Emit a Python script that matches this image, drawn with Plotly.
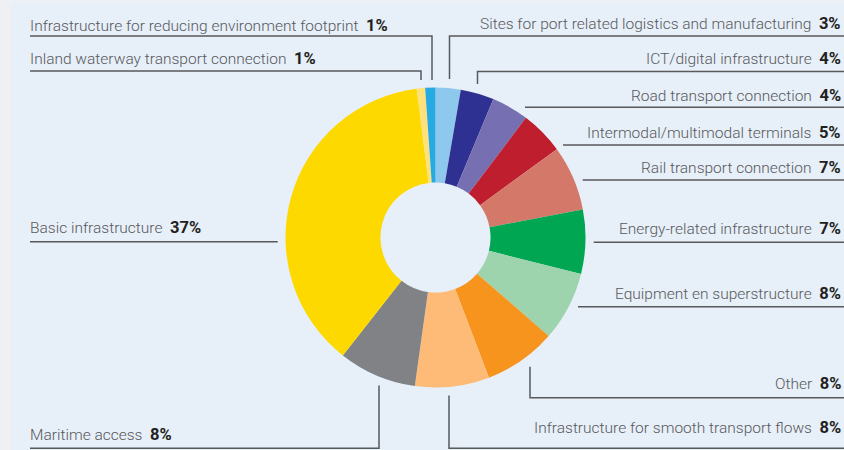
import plotly.graph_objects as go

W, H = 844, 450

# ---- data (clockwise from 12 o'clock) ----
categories = [
    "Sites for port related logistics and manufacturing",
    "ICT/digital infrastructure",
    "Road transport connection",
    "Intermodal/multimodal terminals",
    "Rail transport connection",
    "Energy-related infrastructure",
    "Equipment en superstructure",
    "Other",
    "Infrastructure for smooth transport flows",
    "Maritime access",
    "Basic infrastructure",
    "Inland waterway transport connection",
    "Infrastructure for reducing environment footprint",
]
shares = [2.7, 3.6, 4.0, 4.7, 7.0, 6.9, 7.5, 7.8, 8.0, 8.4, 37.4, 0.9, 1.1]
share_labels = ["3%", "4%", "4%", "5%", "7%", "7%", "8%", "8%", "8%", "8%", "37%", "1%", "1%"]
colors = ["#8EC8EC", "#2E3191", "#7670B3", "#BE1E2D", "#D4796A", "#00A651",
          "#9DD4AE", "#F7941D", "#FDBB77", "#808285", "#FDD900", "#FEE17A", "#27AAE1"]

PANEL = "#E7EFF9"
OUTER = "#EEF0F3"
LINE = "#58595B"
TXT = "#58595B"
PCT = "#231F20"
FONT = "Roboto"
FS = 15.5


def px(x):
    return x / W


def py(y):
    return 1 - y / H


# pie placement: centre (435.5, 237.5), radius 150
cx, cy, r = 435.5, 237.5, 150
fig = go.Figure(go.Pie(
    labels=categories,
    values=shares,
    sort=False,
    direction="clockwise",
    rotation=0,
    hole=0.367,
    marker=dict(colors=colors, line=dict(width=0)),
    textinfo="none",
    hoverinfo="label+percent",
    domain=dict(x=[px(cx - r), px(cx + r)], y=[py(cy + r), py(cy - r)]),
    showlegend=False,
))

# label layout: (side, y-centre px)
label_pos = {
    "Sites for port related logistics and manufacturing": ("R", 23.5),
    "ICT/digital infrastructure": ("R", 58.5),
    "Road transport connection": ("R", 95.8),
    "Intermodal/multimodal terminals": ("R", 132.5),
    "Rail transport connection": ("R", 167.2),
    "Energy-related infrastructure": ("R", 228.8),
    "Equipment en superstructure": ("R", 293.7),
    "Other": ("R", 383.8),
    "Infrastructure for smooth transport flows": ("R", 427.5),
    "Maritime access": ("L", 434.4),
    "Basic infrastructure": ("L", 227.5),
    "Inland waterway transport connection": ("L", 58.5),
    "Infrastructure for reducing environment footprint": ("L", 25.0),
}

annotations = []
for cat, lab in zip(categories, share_labels):
    side, yc = label_pos[cat]
    text = (f"{cat}&nbsp;&nbsp;<span style='color:{PCT};font-size:16.5px'>"
            f"<b>{lab}</b></span>")
    annotations.append(dict(
        text=text, xref="paper", yref="paper",
        x=px(28) if side == "L" else px(843), y=py(yc),
        xanchor="left" if side == "L" else "right", yanchor="middle",
        showarrow=False,
        font=dict(family=FONT, size=FS, color=TXT, weight=300),
    ))

# leader lines (polylines in px)
leaders = [
    [(30, 36), (432, 36), (432, 80)],
    [(30, 71), (421, 71), (421, 80)],
    [(844, 36), (449.5, 36), (449.5, 79)],
    [(844, 71.5), (477.5, 71.5), (477.5, 84)],
    [(525, 107.3), (844, 107.3)],
    [(563, 145), (844, 145)],
    [(582.7, 180), (844, 180)],
    [(593.7, 242.3), (844, 242.3)],
    [(578, 306.7), (844, 306.7)],
    [(530, 366.7), (530, 397.7), (844, 397.7)],
    [(449, 395.5), (449, 448.3), (844, 448.3)],
    [(379, 385.5), (379, 448.3), (30, 448.3)],
    [(30, 241.7), (277.7, 241.7)],
]

shapes = [dict(type="rect", xref="paper", yref="paper",
               x0=px(11), x1=1, y0=0, y1=py(3),
               fillcolor=PANEL, line=dict(width=0), layer="below")]
for pts in leaders:
    path = "M " + " L ".join(f"{px(x):.5f},{py(y):.5f}" for x, y in pts)
    shapes.append(dict(type="path", xref="paper", yref="paper", path=path,
                       line=dict(color=LINE, width=1.5)))

fig.update_layout(
    width=W, height=H,
    margin=dict(l=0, r=0, t=0, b=0),
    paper_bgcolor=OUTER,
    plot_bgcolor=OUTER,
    annotations=annotations,
    shapes=shapes,
)

fig.write_html(
    "out.html",
    config={"displayModeBar": False},
    post_script="document.body.style.margin='0';document.body.style.padding='0';document.body.style.overflow='hidden';",
)
